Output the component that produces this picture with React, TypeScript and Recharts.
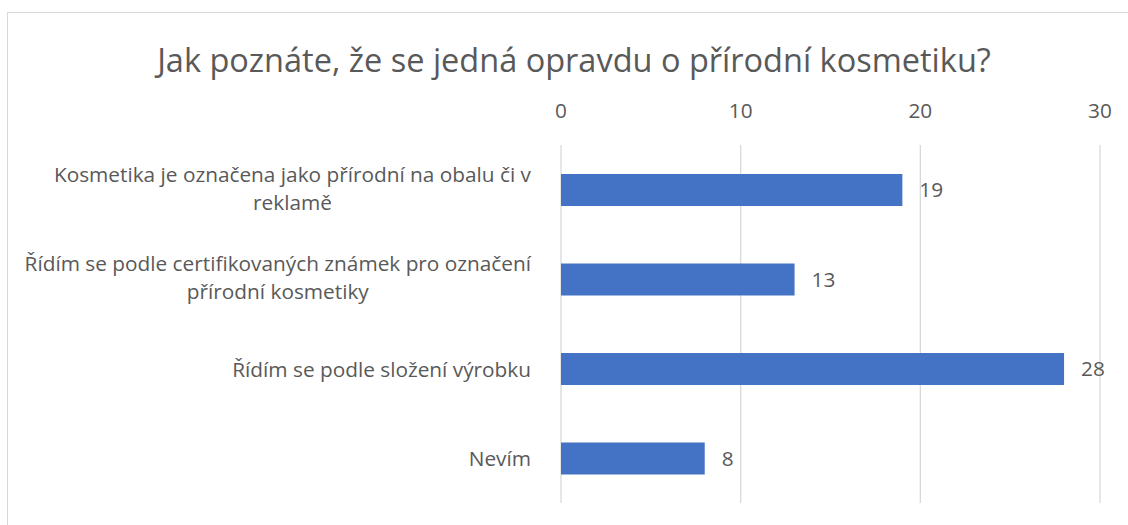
import React from 'react';
import { BarChart, Bar, XAxis, YAxis, CartesianGrid, LabelList } from 'recharts';

const categories = [
    'Kosmetika je označena jako přírodní na obalu či v\nreklamě',
    'Řídím se podle certifikovaných známek pro označení\npřírodní kosmetiky',
    'Řídím se podle složení výrobku',
    'Nevím',
];
const counts = [19, 13, 28, 8];
const xTicks = [0, 10, 20, 30];
const title = 'Jak poznáte, že se jedná opravdu o přírodní kosmetiku?';

const data = categories.map((name, i) => ({ name, value: counts[i] }));

const FONT = '"Open Sans"';
const TEXT = '#595959';
const LABEL_SIZE = 20.8;

let ctx: CanvasRenderingContext2D | null = null;
const measure = (s: string) => {
    if (!ctx) ctx = document.createElement('canvas').getContext('2d');
    if (!ctx) return s.length * 10;
    ctx.font = `${LABEL_SIZE}px ${FONT}`;
    return ctx.measureText(s).width;
};

// wrapped category labels: lines centred on each other, block right-aligned next to the axis
const CategoryTick = ({ x, y, payload }: any) => {
    const lines = String(payload.value).split('\n');
    const widest = Math.max(...lines.map(measure));
    const cx = x - 30 - widest / 2;
    const lh = 28;
    const top = lines.length > 1 ? y - 2 - ((lines.length - 1) * lh) / 2 : y;
    return (
        <g>
            {lines.map((l, i) => (
                <text key={i} x={cx} y={top + i * lh} textAnchor="middle" dominantBaseline="central"
                    fill={TEXT} fontSize={LABEL_SIZE} fontFamily={FONT}>
                    {l}
                </text>
            ))}
        </g>
    );
};

const ValueTick = ({ x, y, payload }: any) => (
    <text x={x} y={y - 35} textAnchor="middle" dominantBaseline="central" fill={TEXT} fontSize={LABEL_SIZE} fontFamily={FONT}>
        {payload.value}
    </text>
);

export default function App() {
    return (
        <div style={{ position: 'relative', width: 1128, height: 525, background: '#fff', fontFamily: FONT }}>
            <style>{'body{margin:0;overflow:hidden}'}</style>
            <div style={{ position: 'absolute', left: 7, top: 12, width: 1125, height: 520, border: '1px solid #d9d9d9' }} />
            <div style={{ position: 'absolute', left: 0, width: 1148, top: 38, textAlign: 'center', fontSize: 32.5, color: TEXT, lineHeight: '44px' }}>
                {title}
            </div>
            <div style={{ position: 'absolute', left: 0, top: 0 }}>
                <BarChart width={1128} height={525} data={data} layout="vertical"
                    margin={{ top: 110, right: 28, bottom: 22, left: 21 }} barCategoryGap={0}>
                    <CartesianGrid horizontal={false} stroke="#d9d9d9" strokeWidth={1.3} />
                    <XAxis type="number" orientation="top" domain={[0, 30]} ticks={xTicks} height={35}
                        axisLine={false} tickLine={false} tickSize={0} tickMargin={0} tick={<ValueTick />} />
                    <YAxis type="category" dataKey="name" width={540} axisLine={false} tickLine={false}
                        tickSize={0} tickMargin={0} tick={<CategoryTick />} interval={0} />
                    <Bar dataKey="value" fill="#4472c4" barSize={32} isAnimationActive={false}>
                        <LabelList dataKey="value" position="right" offset={17} fill={TEXT}
                            fontSize={LABEL_SIZE} fontFamily={FONT} />
                    </Bar>
                </BarChart>
            </div>
        </div>
    );
}
